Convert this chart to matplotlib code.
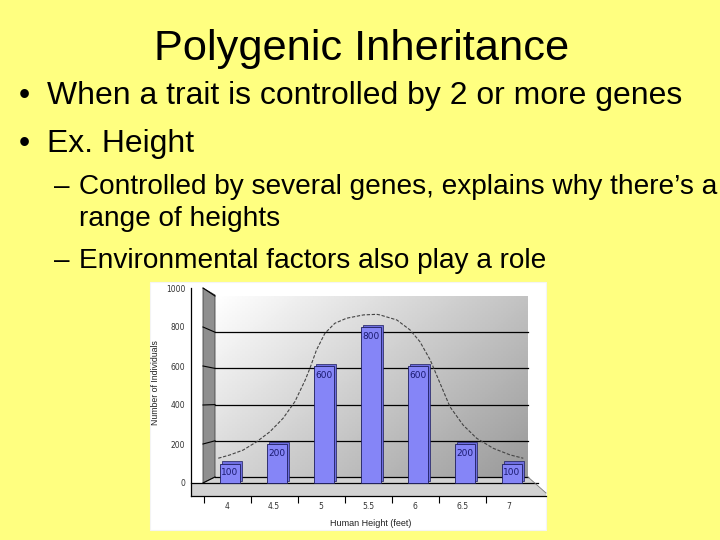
import matplotlib
matplotlib.use("Agg")
import matplotlib.pyplot as plt
import numpy as np
from matplotlib.patches import Polygon, Rectangle

W, H = 720, 540
FONT = "Liberation Sans"

# chart data
heights = ["4", "4.5", "5", "5.5", "6", "6.5", "7"]
counts = [100, 200, 600, 800, 600, 200, 100]
y_ticks = [0, 200, 400, 600, 800, 1000]

# bell curve (category index, individuals)
curve_x = [-0.25, 0.0, 0.28, 0.57, 0.85, 1.13, 1.38, 1.60, 1.70, 1.84, 2.02, 2.23,
           2.48, 2.84, 3.12, 3.19, 3.55, 3.83, 4.04, 4.26, 4.47, 4.68, 4.96, 5.25,
           5.60, 5.96, 6.24]
curve_y = [127, 144, 169, 212, 263, 332, 417, 528, 588, 682, 768, 819,
           845, 862, 865, 862, 836, 785, 725, 631, 511, 391, 297, 229,
           178, 144, 127]

# slide text
title = "Polygenic Inheritance"
bullets = ["When a trait is controlled by 2 or more genes", "Ex. Height"]
sub_bullets = ["Controlled by several genes, explains why there\u2019s a",
               "range of heights",
               "Environmental factors also play a role"]


def fx(px):
    return px / W


def fy(py):
    return 1 - py / H


def to_data(px, py):
    # pixel position -> chart data coords (front scale of the 3d chart)
    return ((px - 230) / 47.0, (483 - py) / 0.195)


fig = plt.figure(figsize=(7.2, 5.4), dpi=100)
fig.patch.set_facecolor("#FFFF80")
renderer = fig.canvas.get_renderer()


def fit_size(s, size, width_px):
    t = fig.text(0, 0, s, fontsize=size, family=FONT)
    w = t.get_window_extent(renderer).width
    t.remove()
    return size * width_px / w


# ---- slide text ----
title_size = fit_size(title, 30, 414)
fig.text(fx(154), fy(60), title, fontsize=title_size, family=FONT, va="baseline")

bullet_size = fit_size(bullets[0], 23, 635)
for s, base in zip(bullets, [104, 152]):
    fig.text(fx(19), fy(base), "\u2022", fontsize=bullet_size, family=FONT, va="baseline")
    fig.text(fx(47), fy(base), s, fontsize=bullet_size, family=FONT, va="baseline")

sub_size = fit_size(sub_bullets[0], 20, 636)
for s, base, dash in zip(sub_bullets, [194, 226, 268], [True, False, True]):
    if dash:
        fig.text(fx(54), fy(base), "\u2013", fontsize=sub_size, family=FONT, va="baseline")
    fig.text(fx(79), fy(base), s, fontsize=sub_size, family=FONT, va="baseline")

# ---- chart picture box ----
fig.patches.append(Rectangle((fx(150), fy(530)), (546 - 150) / W, (530 - 282) / H,
                             transform=fig.transFigure, facecolor="white",
                             edgecolor="#f4f4f4", lw=0.8, zorder=-1))

ax = fig.add_axes([fx(191), fy(496), (546 - 191) / W, (496 - 288) / H])
ax.set_facecolor("none")

x0, y0 = to_data(191, 496)
x1, y1 = to_data(546, 288)

# back wall gradient
bx0, by0 = to_data(215, 477)
bx1, by1 = to_data(528, 296)
u = np.linspace(0, 1, 120)[None, :]
v = np.linspace(0, 1, 80)[:, None]
wall = 1 - 0.40 * (0.6 * u + 0.4 * v)
ax.imshow(wall, cmap="gray", vmin=0, vmax=1, extent=[bx0, bx1, by0, by1],
          aspect="auto", origin="upper", zorder=0)

# side wall and floor
side = [to_data(203, 288), to_data(215, 295), to_data(215, 477), to_data(203, 483)]
ax.add_patch(Polygon(side, closed=True, facecolor="#8f8f8f", edgecolor="#444444",
                     lw=0.6, zorder=0.5, clip_on=False))
floor = [to_data(203, 483), to_data(215, 477), to_data(528, 477), to_data(546, 493),
         to_data(546, 496), to_data(191, 496), to_data(191, 483)]
ax.add_patch(Polygon(floor, closed=True, facecolor="#d2d2d2", edgecolor="none",
                     zorder=0.5, clip_on=False))

# grid lines on back wall and side wall
for val in y_ticks:
    back_py = 477 - val * 0.181
    front_py = 483 - val * 0.195
    sx, sy = zip(to_data(203, front_py), to_data(215, back_py))
    ax.plot(sx, sy, color="black", lw=0.8, zorder=1, clip_on=False)
    if val < 1000:
        gx, gy = zip(to_data(215, back_py), to_data(528, back_py))
        ax.plot(gx, gy, color="black", lw=0.9, zorder=1, clip_on=False)
zx, zy = zip(to_data(191, 483), to_data(538, 483))
ax.plot(zx, zy, color="black", lw=0.9, zorder=1, clip_on=False)
ex, ey = zip(to_data(528, 477), to_data(546, 493))
ax.plot(ex, ey, color="#777777", lw=0.6, zorder=1, clip_on=False)

# bell curve
ax.plot(curve_x, curve_y, color="#444444", lw=0.8, linestyle=(0, (3, 1.5)), zorder=2)

# bars with a little depth
pos = np.arange(len(counts))
ax.bar(pos + 0.05, counts, width=0.43, bottom=12, color="#6e6ee0",
       edgecolor="#1c1c5c", lw=0.5, zorder=2.5)
ax.bar(pos, counts, width=0.43, color="#8585f7", edgecolor="#1c1c5c",
       lw=0.6, zorder=3)
for p, c in zip(pos, counts):
    ax.annotate(str(c), (p, c), xytext=(0, -6.5), textcoords="offset points",
                ha="center", va="center", fontsize=6.5, color="#1a1a70", zorder=4)

ax.set_xlim(x0, x1)
ax.set_ylim(y0, y1)

# axes
for name in ["top", "right"]:
    ax.spines[name].set_visible(False)
for name in ["left", "bottom"]:
    ax.spines[name].set_color("black")
    ax.spines[name].set_linewidth(0.9)
ax.set_yticks(y_ticks)
ax.set_yticklabels([str(t) for t in y_ticks])
ax.tick_params(axis="y", length=0, pad=4, labelsize=5.5, labelcolor="#333333")
ax.set_xticks(pos - 0.06)
ax.set_xticklabels(heights)
ax.set_xticks(pos - 0.55, minor=True)
ax.tick_params(axis="x", which="major", length=0, pad=4, labelsize=5.5,
               labelcolor="#333333")
ax.tick_params(axis="x", which="minor", length=5, width=0.8, color="black")

fig.text(fx(155), fy(383), "Number of Individuals", rotation=90, fontsize=6.3,
         color="#222222", ha="center", va="center", family=FONT)
fig.text(fx(371), fy(524), "Human Height (feet)", fontsize=6.5,
         color="#222222", ha="center", va="center", family=FONT)

fig.savefig("out.png", dpi=100, facecolor=fig.get_facecolor())
